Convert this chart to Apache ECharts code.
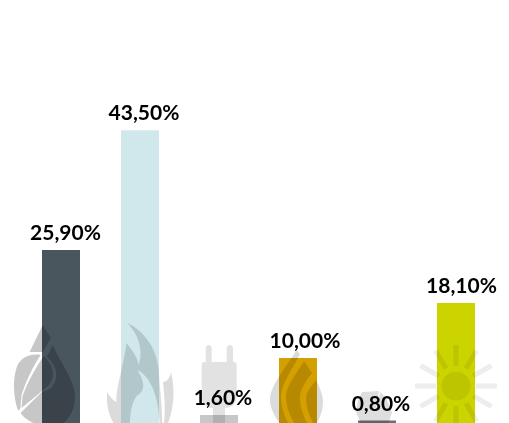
<!DOCTYPE html>
<html><head><meta charset="utf-8">
<style>html,body{margin:0;padding:0;background:#fff}#c{width:509px;height:423px}</style>
<script src="https://cdn.jsdelivr.net/npm/echarts@6/dist/echarts.min.js"></script>
</head><body><div id="c"></div>
<script>
const categories = ['Kohle','Gas','Strom','Öl','Stein','Solar'];
const values = [25.9, 43.5, 1.6, 10.0, 0.8, 18.1];
const valueLabels = ['25,90%','43,50%','1,60%','10,00%','0,80%','18,10%'];
const barColors = ['#4a565e','#d0e8eb','#c6c7c9','#d4a000','#6d7179','#ccd400'];
const labelShifts = [4.5,4,4,7,4,5.5];

// Decorative pictograms
function sunPath(){
  let d='';
  for(let i=0;i<12;i++){
    const a=i*Math.PI/6,c=Math.cos(a),s=Math.sin(a),r0=20,r1=41,w=2.5;
    const p=(r,t)=>(r*c-t*s).toFixed(2)+' '+(r*s+t*c).toFixed(2);
    d+='M'+p(r0,-w)+'L'+p(r1,-w)+'L'+p(r1,w)+'L'+p(r0,w)+'Z';
  }
  d+='M-14.5 0A14.5 14.5 0 1 1 14.5 0A14.5 14.5 0 1 1 -14.5 0Z';
  return d;
}
const iconPaths = [
 'M43 325L51 338L43 352L30 352Z'+
 'M53 345C60 362 75 380 75 397C75 413 66 422 60 426L42 426L42 392L50 389C59 381 59 367 47 357Z'+
 'M44 356C56 368 56 380 46 388L22 408L23 396C28 382 36 368 44 356Z'+
 'M41 355C30 353 20 358 17 368C13 380 14 400 19 411L21 408L22 395C27 380 33 367 41 355Z'+
 'M42 392L21 413C26 420 34 424 42 426Z',
 'M127 323C142 330 157 348 158 372C159 390 162 410 161 426L159 426C158 400 152 378 137 370C146 385 143 392 136 396C130 405 130 415 129 426L115 426C108 415 106 405 107 392C110 398 113 400 116 402C116 385 122 372 126 343C132 350 137 358 138 365C143 350 138 335 127 323Z'+
 'M170 372C175 392 172 412 166 426L163 426C165 405 163 390 162 382C166 382 169 378 170 372Z',
 'M208.7 345C210.5 345 211.7 346.5 211.7 348L211.7 362L226.7 362L226.7 348C226.7 346.5 228 345 229.8 345C231.6 345 233 346.5 233 348L233 362L234 362C235.8 362 236.7 363 236.7 365L236.7 397C236.7 403 232 408 225 408L225 426L213 426L213 408C206 408 201.7 403 201.7 397L201.7 365C201.7 363 202.6 362 204 362L205.7 362L205.7 348C205.7 346.5 207 345 208.7 345Z',
 'M296.5 350L300 354C292 370 281 384 281 397C281 408 285 418 290 426L282 426C275 418 270 408 270 400C270 385 286 368 296.5 350Z'+
 'M304 361L312 373C305 382 300 390 300 398C300 408 304 418 309 426L296 426C291 418 286 408 286 397C286 385 296 375 304 361Z'+
 'M316 380C320 388 323 395 323 402C323 412 319 420 315 426C310 418 306 408 306 398C306 392 311 387 316 380Z',
 'M362 392L379 391L375 412L380.5 392L386 398L392 412L388 426L362 426L356 412L358 400Z',
 sunPath()
];
// [width, height, offset x from bar centre, offset y from baseline]
const iconBoxes = [
 [61,101,-16.5,-50.5],
 [66.5,103,0.25,-51.5],
 [35,81,0.2,-40.5],
 [53,76,-1.5,-38],
 [36,35,-3,-17.5],
 [82,82,0,-40]
];
const iconShades = ['rgba(0,0,0,.22)','rgba(0,0,0,.14)','rgba(0,0,0,.115)','rgba(0,0,0,.14)','rgba(0,0,0,.13)','rgba(0,0,0,.07)'];

const chart = echarts.init(document.getElementById('c'),null,{renderer:'canvas'});
chart.setOption({
  animation:false,
  backgroundColor:'#fff',
  grid:{left:21.5,width:474,top:86,height:340,containLabel:false,outerBoundsMode:'none'},
  xAxis:{type:'category',data:categories,show:false},
  yAxis:{type:'value',min:0,max:50,show:false},
  series:[
    {type:'bar',z:2,barWidth:38,silent:true,
     data:values.map((v,i)=>({value:v,itemStyle:{color:barColors[i]}}))},
    {type:'scatter',z:3,clip:false,silent:true,
     data:categories.map((c,i)=>({
       value:[c,0],
       symbol:'path://'+iconPaths[i],
       symbolSize:[iconBoxes[i][0],iconBoxes[i][1]],
       symbolOffset:[iconBoxes[i][2],iconBoxes[i][3]],
       itemStyle:{color:iconShades[i],opacity:1}
     }))},
    {type:'scatter',z:4,clip:false,silent:true,symbolSize:0,
     data:categories.map((c,i)=>({value:[c,values[i]],
       label:{show:true,position:'top',distance:6,offset:[labelShifts[i],0],formatter:valueLabels[i],
              color:'#000',opacity:1,fontFamily:'Lato',fontWeight:'bold',fontSize:21}}))}
  ]
});
</script></body></html>
